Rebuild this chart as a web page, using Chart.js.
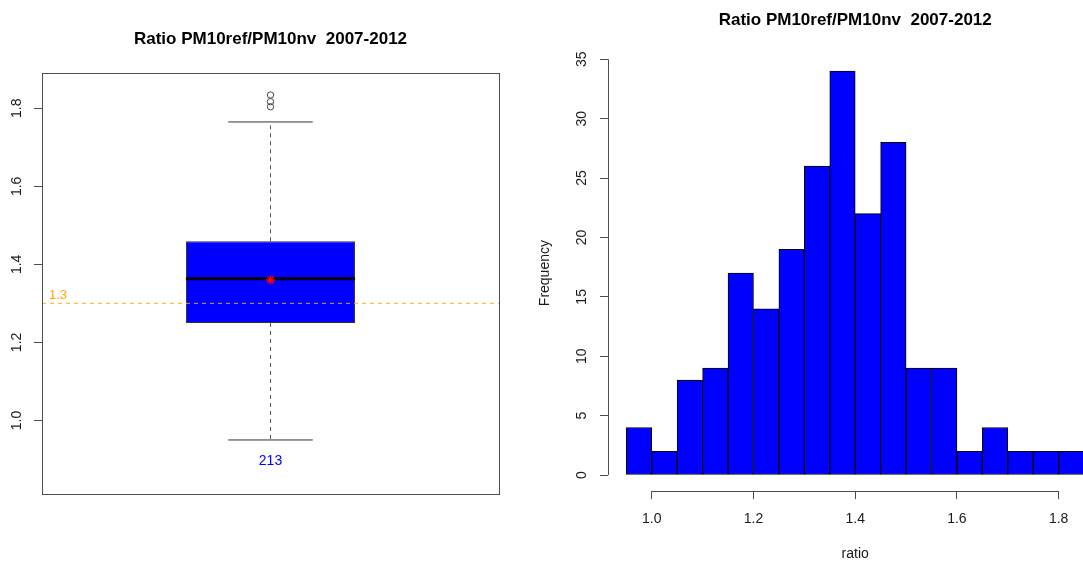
<!DOCTYPE html>
<html>
<head>
<meta charset="utf-8">
<script src="https://cdn.jsdelivr.net/npm/chart.js@4.4.0/dist/chart.umd.min.js"></script>
<style>
html, body { margin: 0; padding: 0; background: #fff; overflow: hidden; width: 1083px; height: 563px; }
#boxChart { position: absolute; left: 0; top: 0; }
#histChart { position: absolute; left: 530px; top: 0; }
</style>
</head>
<body>
<canvas id="boxChart" width="540" height="563"></canvas>
<canvas id="histChart" width="650" height="563"></canvas>
<script>
// boxplot stats
var whiskerLow = [0.95];
var boxQ1 = [1.25];
var boxMedian = [1.363];
var boxQ3 = [1.459];
var whiskerHigh = [1.765];
var boxMean = [1.36];
var outlierVals = [1.804, 1.817, 1.834];
var boxCount = ['213'];
var refValue = [1.3];
var boxYTicks = [1.0, 1.2, 1.4, 1.6, 1.8];

// histogram
var histMids = [0.975, 1.025, 1.075, 1.125, 1.175, 1.225, 1.275, 1.325, 1.375,
                1.425, 1.475, 1.525, 1.575, 1.625, 1.675, 1.725, 1.775, 1.825];
var histCounts = [4, 2, 8, 9, 17, 14, 19, 26, 34, 22, 28, 9, 9, 2, 4, 2, 2, 2];
var histXTicks = [1.0, 1.2, 1.4, 1.6, 1.8];
var histYTicks = [0, 5, 10, 15, 20, 25, 30, 35];

var titleText = 'Ratio PM10ref/PM10nv  2007-2012';
var FONT = '"Liberation Sans", Arial, Helvetica, sans-serif';
var AXIS = '#4d4d4d';
var TXT = '#1a1a1a';

function rotatedLabels(chart, x, ticks, fmt) {
    var ctx = chart.ctx, sc = chart.scales.y;
    ctx.save();
    ctx.font = '14px ' + FONT;
    ctx.fillStyle = TXT;
    ctx.textAlign = 'center';
    ctx.textBaseline = 'middle';
    ticks.forEach(function (v) {
        ctx.save();
        ctx.translate(x, sc.getPixelForValue(v));
        ctx.rotate(-Math.PI / 2);
        ctx.fillText(fmt(v), 0, 0);
        ctx.restore();
    });
    ctx.restore();
}

var boxExtras = {
    id: 'boxExtras',
    afterDraw: function (chart) {
        var ctx = chart.ctx, a = chart.chartArea;
        var y = chart.scales.y, x = chart.scales.x;
        ctx.save();
        ctx.strokeStyle = AXIS;
        ctx.lineWidth = 1;
        ctx.strokeRect(Math.round(a.left) + 0.5, Math.round(a.top) + 0.5,
                       Math.round(a.right - a.left), Math.round(a.bottom - a.top));
        ctx.font = '14px ' + FONT;
        ctx.textAlign = 'center';
        ctx.textBaseline = 'middle';
        ctx.fillStyle = '#0000ff';
        ctx.fillText(boxCount[0], x.getPixelForValue(1), y.getPixelForValue(whiskerLow[0]) + 21);
        ctx.font = '13px ' + FONT;
        ctx.textAlign = 'left';
        ctx.fillStyle = '#ffa500';
        ctx.fillText(refValue[0].toFixed(1), a.left + 7, y.getPixelForValue(refValue[0]) - 8);
        ctx.restore();
        rotatedLabels(chart, 17.5, boxYTicks, function (v) { return v.toFixed(1); });
    }
};

var histExtras = {
    id: 'histExtras',
    afterDraw: function (chart) {
        var ctx = chart.ctx, a = chart.chartArea;
        var x = chart.scales.x, y = chart.scales.y;
        ctx.save();
        ctx.strokeStyle = AXIS;
        ctx.lineWidth = 1;
        ctx.beginPath();
        var yb = Math.round(a.bottom) + 0.5;
        ctx.moveTo(x.getPixelForValue(histXTicks[0]), yb);
        ctx.lineTo(x.getPixelForValue(histXTicks[histXTicks.length - 1]), yb);
        var xl = Math.round(a.left) + 0.5;
        ctx.moveTo(xl, y.getPixelForValue(histYTicks[0]));
        ctx.lineTo(xl, y.getPixelForValue(histYTicks[histYTicks.length - 1]));
        ctx.stroke();
        ctx.restore();
        rotatedLabels(chart, 52, histYTicks, function (v) { return String(v); });
    }
};

function line(xs, ys, opts) {
    var pts = xs.map(function (xv, i) { return { x: xv, y: ys[i] }; });
    return Object.assign({
        type: 'line', data: pts,
        borderColor: '#333', borderWidth: 1, pointRadius: 0, fill: false
    }, opts || {});
}

new Chart(document.getElementById('boxChart'), {
    type: 'bar',
    data: {
        datasets: [
            line([0.815, 1.185], [boxMedian[0], boxMedian[0]], { borderColor: '#000', borderWidth: 3, order: 2 }),
            {
                type: 'line', showLine: false,
                data: outlierVals.map(function (v) { return { x: 1, y: v }; }),
                pointRadius: 3.2, pointStyle: 'circle',
                pointBorderColor: '#444', pointBackgroundColor: 'rgba(0,0,0,0)', pointBorderWidth: 1, order: 1
            },
            {
                type: 'line', showLine: false,
                data: [{ x: 1, y: boxMean[0] }],
                pointRadius: 4.5, pointStyle: 'star',
                pointBorderColor: '#ff0000', pointBorderWidth: 1.5, order: 1
            },
            line([1, 1], [boxQ3[0], whiskerHigh[0]], { borderColor: '#555', borderDash: [4, 4], order: 3 }),
            line([1, 1], [boxQ1[0], whiskerLow[0]], { borderColor: '#555', borderDash: [4, 4], order: 3 }),
            line([0.9075, 1.0925], [whiskerHigh[0], whiskerHigh[0]], { order: 3 }),
            line([0.9075, 1.0925], [whiskerLow[0], whiskerLow[0]], { order: 3 }),
            line([0.5, 1.5], [refValue[0], refValue[0]], {
                borderColor: 'rgba(255,165,0,0.75)', borderWidth: 1.2, borderDash: [4, 4], order: 4
            }),
            {
                type: 'bar',
                data: [{ x: 1, y: [boxQ1[0], boxQ3[0]] }],
                backgroundColor: '#0000ff', borderColor: '#333', borderWidth: 1,
                borderSkipped: false, barPercentage: 0.37, categoryPercentage: 1, order: 10
            }
        ]
    },
    options: {
        responsive: false,
        devicePixelRatio: 1,
        animation: false,
        events: [],
        layout: { padding: { left: 0, right: 41, top: 0, bottom: 69 } },
        plugins: {
            legend: { display: false },
            tooltip: { enabled: false },
            title: {
                display: true, fullSize: false, text: titleText, color: '#000',
                font: { family: FONT, size: 17, weight: 'bold' },
                padding: { top: 29.3, bottom: 23.3 }
            }
        },
        scales: {
            x: {
                type: 'linear', display: false, min: 0.5, max: 1.5, offset: false,
                afterBuildTicks: function (s) { s.ticks = [{ value: 0.5 }, { value: 1.5 }]; },
                grid: { offset: false }
            },
            y: {
                type: 'linear', position: 'left', min: 0.8115, max: 1.8905,
                afterBuildTicks: function (s) { s.ticks = boxYTicks.map(function (v) { return { value: v }; }); },
                afterFit: function (s) { s.width = 42; },
                ticks: { display: false },
                border: { display: false },
                grid: { drawOnChartArea: false, drawTicks: true, tickLength: 8, color: AXIS }
            }
        }
    },
    plugins: [boxExtras]
});

new Chart(document.getElementById('histChart'), {
    type: 'bar',
    data: {
        datasets: [{
            label: 'Frequency',
            data: histMids.map(function (m, i) { return { x: m, y: histCounts[i] }; }),
            backgroundColor: '#0000ff',
            borderColor: '#000',
            borderWidth: 1,
            borderSkipped: false,
            barPercentage: 1,
            categoryPercentage: 1
        }]
    },
    options: {
        responsive: false,
        devicePixelRatio: 1,
        animation: false,
        events: [],
        layout: { padding: { left: 0, right: 77.6, top: 0, bottom: 0 } },
        plugins: {
            legend: { display: false },
            tooltip: { enabled: false },
            title: {
                display: true, fullSize: false, text: titleText, color: '#000',
                font: { family: FONT, size: 17, weight: 'bold' },
                padding: { top: 9.8, bottom: 24.8 }
            }
        },
        scales: {
            x: {
                type: 'linear', position: 'bottom', min: 0.914, max: 1.886,
                offset: false,
                afterBuildTicks: function (s) { s.ticks = histXTicks.map(function (v) { return { value: v }; }); },
                afterFit: function (s) { s.height = 71.8; },
                ticks: {
                    color: TXT, padding: 12, maxRotation: 0,
                    font: { family: FONT, size: 14 },
                    callback: function (v) { return Number(v).toFixed(1); }
                },
                border: { display: false },
                grid: { offset: false, drawOnChartArea: false, drawTicks: true, tickLength: 8, color: AXIS },
                title: { display: true, text: 'ratio', color: TXT, font: { family: FONT, size: 14 }, padding: { top: 2, bottom: 0 } }
            },
            y: {
                type: 'linear', position: 'left', min: -1.36, max: 35.36,
                afterBuildTicks: function (s) { s.ticks = histYTicks.map(function (v) { return { value: v }; }); },
                afterFit: function (s) { s.width = 78; },
                ticks: { display: false },
                border: { display: false },
                grid: { drawOnChartArea: false, drawTicks: true, tickLength: 8, color: AXIS },
                title: { display: true, text: 'Frequency', color: TXT, font: { family: FONT, size: 14 }, padding: { top: 6.6, bottom: 0 } }
            }
        }
    },
    plugins: [histExtras]
});
</script>
</body>
</html>
